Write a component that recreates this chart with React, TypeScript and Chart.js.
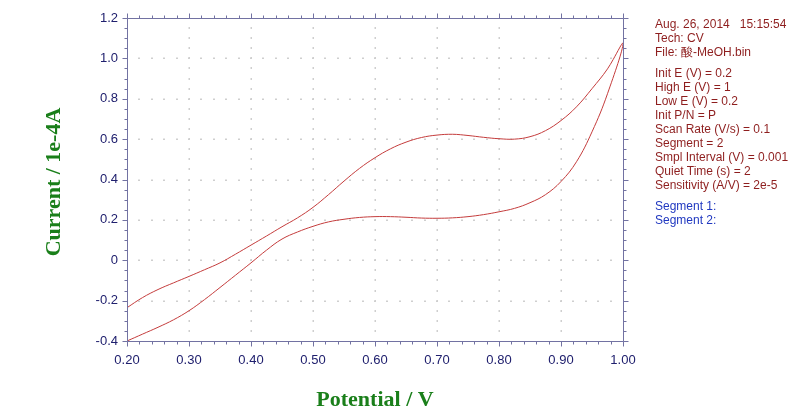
import React, { useEffect, useRef } from "react";
import { Chart, registerables } from "chart.js";

Chart.register(...registerables);

// Potential grid for both scan branches (V)
const potential = [0.2, 0.225, 0.25, 0.275, 0.3, 0.325, 0.35, 0.375, 0.4, 0.425, 0.45, 0.475, 0.5, 0.525, 0.55, 0.575, 0.6, 0.625, 0.65, 0.675, 0.7, 0.725, 0.75, 0.775, 0.8, 0.825, 0.85, 0.875, 0.9, 0.925, 0.95, 0.975, 1.0];

// Forward scan (0.2 V -> 1.0 V), upper branch, current in 1e-4 A
const forwardCurrent = [-0.235, -0.185, -0.145, -0.112, -0.08, -0.047, -0.013, 0.03, 0.075, 0.12, 0.166, 0.21, 0.262, 0.325, 0.392, 0.455, 0.508, 0.552, 0.585, 0.608, 0.62, 0.624, 0.618, 0.609, 0.602, 0.6, 0.612, 0.642, 0.692, 0.76, 0.85, 0.948, 1.074];

// Reverse scan (1.0 V -> 0.2 V), lower branch, listed on the same potential grid (ascending)
const reverseCurrent = [-0.4, -0.366, -0.332, -0.295, -0.25, -0.195, -0.135, -0.074, -0.013, 0.05, 0.105, 0.14, 0.168, 0.19, 0.203, 0.212, 0.216, 0.216, 0.213, 0.209, 0.208, 0.21, 0.216, 0.226, 0.24, 0.257, 0.285, 0.325, 0.39, 0.488, 0.636, 0.825, 1.074];

const xMin = 0.2, xMax = 1.0, xStep = 0.1, xMinor = 0.02;
const yMin = -0.4, yMax = 1.2, yStep = 0.2, yMinor = 0.05;

const infoHeader = ["Aug. 26, 2014   15:15:54", "Tech: CV", "File: 酸-MeOH.bin"];
const infoParams = [
  "Init E (V) = 0.2",
  "High E (V) = 1",
  "Low E (V) = 0.2",
  "Init P/N = P",
  "Scan Rate (V/s) = 0.1",
  "Segment = 2",
  "Smpl Interval (V) = 0.001",
  "Quiet Time (s) = 2",
  "Sensitivity (A/V) = 2e-5",
];
const infoSegments = ["Segment 1:", "Segment 2:"];

const xTitle = "Potential / V";
const yTitle = "Current / 1e-4A";

const AXIS_COLOR = "#7272a2";
const LABEL_COLOR = "#20206e";
const TITLE_COLOR = "#1a7f1a";
const LINE_COLOR = "#c43c3c";
const INFO_COLOR = "#8e1e1e";
const SEG_COLOR = "#2038c0";

const framePlugin = {
  id: "cvFrame",
  beforeDatasetsDraw(chart: any) {
    const { ctx, scales } = chart;
    const xs = scales.x, ys = scales.y;
    ctx.save();
    ctx.fillStyle = "#cfcfcf";
    const nxMaj = Math.round((xMax - xMin) / xStep);
    const nyMaj = Math.round((yMax - yMin) / yStep);
    const nxMin = Math.round((xMax - xMin) / xMinor);
    const nyMin = Math.round((yMax - yMin) / yMinor);
    for (let j = 1; j < nyMaj; j++) {
      const py = Math.round(ys.getPixelForValue(yMin + j * yStep));
      for (let i = 1; i < nxMin; i++) {
        const px = Math.round(xs.getPixelForValue(xMin + i * xMinor));
        ctx.fillRect(px - 1, py - 0.5, 2, 1.5);
      }
    }
    for (let i = 1; i < nxMaj; i++) {
      const px = Math.round(xs.getPixelForValue(xMin + i * xStep));
      for (let j = 1; j < nyMin; j++) {
        const py = Math.round(ys.getPixelForValue(yMin + j * yMinor));
        ctx.fillRect(px - 0.5, py - 1, 1.5, 2);
      }
    }
    ctx.restore();
  },
  afterDraw(chart: any) {
    const { ctx, chartArea: a, scales } = chart;
    const xs = scales.x, ys = scales.y;
    ctx.save();
    ctx.strokeStyle = AXIS_COLOR;
    ctx.lineWidth = 1;
    const L = Math.round(a.left) + 0.5, R = Math.round(a.right) + 0.5;
    const T = Math.round(a.top) + 0.5, B = Math.round(a.bottom) + 0.5;
    ctx.beginPath();
    ctx.rect(L, T, R - L, B - T);
    ctx.stroke();
    ctx.beginPath();
    const nxMin = Math.round((xMax - xMin) / xMinor);
    for (let i = 0; i <= nxMin; i++) {
      const v = xMin + i * xMinor;
      const major = i % Math.round(xStep / xMinor) === 0;
      const len = major ? 5 : 3;
      const px = Math.round(xs.getPixelForValue(v)) + 0.5;
      ctx.moveTo(px, B); ctx.lineTo(px, B + len);
      ctx.moveTo(px, T); ctx.lineTo(px, T - len);
    }
    const nyMin = Math.round((yMax - yMin) / yMinor);
    for (let j = 0; j <= nyMin; j++) {
      const v = yMin + j * yMinor;
      const major = j % Math.round(yStep / yMinor) === 0;
      const len = major ? 5 : 3;
      const py = Math.round(ys.getPixelForValue(v)) + 0.5;
      ctx.moveTo(L, py); ctx.lineTo(L - len, py);
      ctx.moveTo(R, py); ctx.lineTo(R + len, py);
    }
    ctx.stroke();

    ctx.fillStyle = TITLE_COLOR;
    ctx.font = "bold 22px 'Liberation Serif', 'Times New Roman', serif";
    ctx.textAlign = "center";
    ctx.textBaseline = "alphabetic";
    ctx.fillText(xTitle, (a.left + a.right) / 2, 406);
    ctx.translate(60, 182);
    ctx.rotate(-Math.PI / 2);
    ctx.fillText(yTitle, 0, 0);
    ctx.restore();
  },
};

export default function App() {
  const canvasRef = useRef<HTMLCanvasElement | null>(null);

  useEffect(() => {
    if (!canvasRef.current) return;
    const forward = potential.map((x, i) => ({ x, y: forwardCurrent[i] }));
    const reverse = potential.map((x, i) => ({ x, y: reverseCurrent[i] })).reverse().slice(1);
    const points = [...forward, ...reverse];
    const tickFont = { family: "'Liberation Sans', Arial, sans-serif", size: 13 };
    const chart = new Chart(canvasRef.current, {
      type: "scatter",
      data: {
        datasets: [
          {
            data: points,
            showLine: true,
            borderColor: LINE_COLOR,
            borderWidth: 1,
            pointRadius: 0,
            tension: 0.4,
            fill: false,
          },
        ],
      },
      options: {
        animation: false,
        responsive: false,
        layout: { padding: { top: 18, right: 177, left: 0, bottom: 0 } },
        plugins: { legend: { display: false }, tooltip: { enabled: false } },
        scales: {
          x: {
            type: "linear",
            min: xMin,
            max: xMax,
            grid: { display: false, drawTicks: false },
            border: { display: false },
            ticks: {
              stepSize: xStep,
              color: LABEL_COLOR,
              font: tickFont,
              padding: 12,
              maxRotation: 0,
              callback: (v: any) => Number(v).toFixed(2),
            },
            afterFit: (s: any) => { s.height = 67; },
          },
          y: {
            type: "linear",
            min: yMin,
            max: yMax,
            grid: { display: false, drawTicks: false },
            border: { display: false },
            ticks: {
              stepSize: yStep,
              color: LABEL_COLOR,
              font: tickFont,
              padding: 9,
              callback: (v: any) => (Math.abs(Number(v)) < 1e-9 ? "0" : Number(v).toFixed(1)),
            },
            afterFit: (s: any) => { s.width = 127; },
          },
        },
      },
      plugins: [framePlugin],
    });
    return () => chart.destroy();
  }, []);

  const infoStyle: React.CSSProperties = {
    position: "absolute",
    left: 655,
    top: 17,
    fontFamily: "'Liberation Sans', Arial, sans-serif",
    fontSize: 12,
    lineHeight: "14px",
    color: INFO_COLOR,
    whiteSpace: "pre",
  };

  return (
    <div style={{ position: "fixed", left: 0, top: 0, width: 800, height: 408, background: "#fff" }}>
      <canvas ref={canvasRef} width={800} height={408} style={{ display: "block" }} />
      <div style={infoStyle}>
        {infoHeader.map((t) => (
          <div key={t}>{t}</div>
        ))}
        <div style={{ height: 7 }} />
        {infoParams.map((t) => (
          <div key={t}>{t}</div>
        ))}
        <div style={{ height: 7 }} />
        {infoSegments.map((t) => (
          <div key={t} style={{ color: SEG_COLOR }}>{t}</div>
        ))}
      </div>
    </div>
  );
}
